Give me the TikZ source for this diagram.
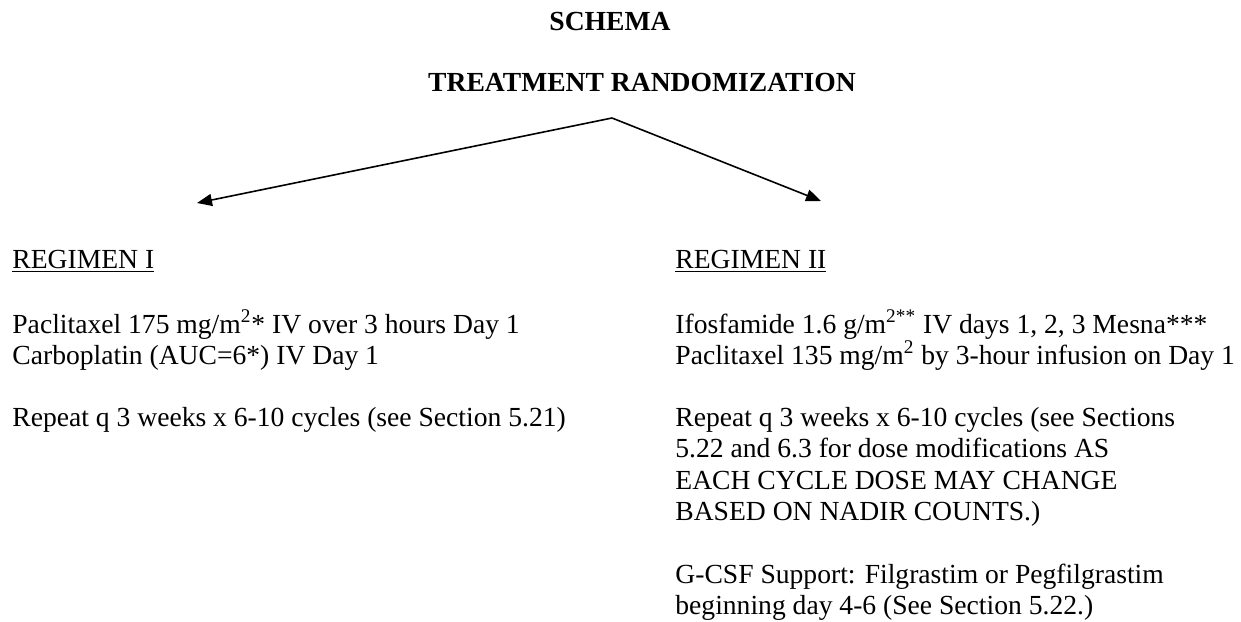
\documentclass[tikz,border=0pt]{standalone}
\usepackage{fontspec}
\setmainfont{Liberation Serif}
\usetikzlibrary{arrows.meta}
\tikzset{
  txt/.style={anchor=base west, inner sep=0pt, font=\fontsize{13.8}{16}\selectfont},
  ttl/.style={anchor=base, inner sep=0pt, font=\fontsize{13.8}{16}\selectfont\bfseries},
  arr/.style={line width=0.8pt, -{Triangle[length=7.5pt,width=6pt]}}
}
\begin{document}
\begin{tikzpicture}[x=0.5pt,y=-0.5pt]
\useasboundingbox (0,0) rectangle (1241,621);
\node[ttl] (schema) at (610,31) {SCHEMA};
\node[ttl] (rand) at (642,91) {TREATMENT RANDOMIZATION};
\coordinate (apex) at (612,118);
\coordinate (lt) at (197,203);
\coordinate (rt) at (821,201);
\draw[arr] (apex) -- (lt);
\draw[arr] (apex) -- (rt);
% left column
\node[txt] (r1) at (12,268) {\underline{REGIMEN I}};
\node[txt] (l1) at (12,333) {Paclitaxel 175 mg/m\textsuperscript{2}* IV over 3 hours Day 1};
\node[txt] (l2) at (12,364) {Carboplatin (AUC=6*) IV Day 1};
\node[txt] (l3) at (12,426) {Repeat q 3 weeks x 6-10 cycles (see Section 5.21)};
% right column
\node[txt] (r2) at (675,268) {\underline{REGIMEN II}};
\node[txt] (m1) at (675,333) {Ifosfamide 1.6 g/m\textsuperscript{2**} IV days 1, 2, 3 Mesna***};
\node[txt] (m2) at (675,364) {Paclitaxel 135 mg/m\textsuperscript{2} by 3-hour infusion on Day 1};
\node[txt] (m3) at (675,426) {Repeat q 3 weeks x 6-10 cycles (see Sections};
\node[txt] (m4) at (675,457) {5.22 and 6.3 for dose modifications AS};
\node[txt] (m5) at (675,489) {EACH CYCLE DOSE MAY CHANGE};
\node[txt] (m6) at (675,520) {BASED ON NADIR COUNTS.)};
\node[txt] (m7) at (675,583) {G-CSF Support: Filgrastim or Pegfilgrastim};
\node[txt] (m8) at (675,614) {beginning day 4-6 (See Section 5.22.)};
\end{tikzpicture}
\end{document}
